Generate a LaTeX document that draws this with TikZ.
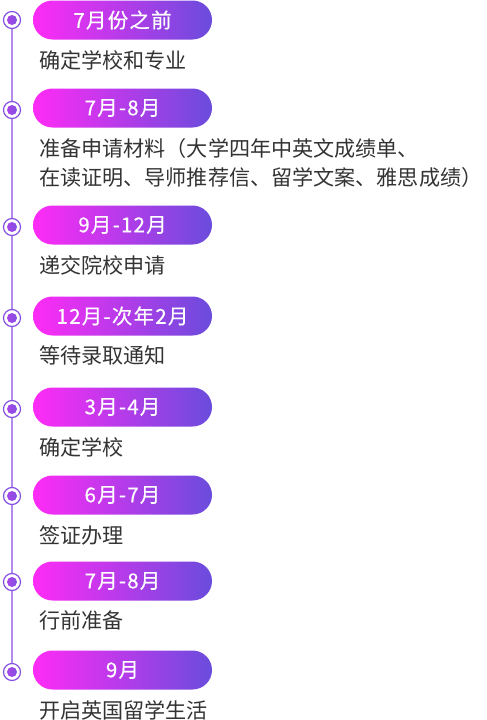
\documentclass[tikz,border=0pt]{standalone}
\usepackage{fontspec}
\setmainfont{Noto Sans CJK SC}
\newfontfamily\pillfont[LetterSpace=6,FakeBold=0.4]{Noto Sans CJK SC}
\definecolor{pillleft}{HTML}{FF2BF6}
\definecolor{pillright}{HTML}{6A4CDC}
\definecolor{ringcol}{HTML}{8450E2}
\definecolor{linecol}{HTML}{B38CEB}
\definecolor{textgray}{HTML}{333333}
\begin{document}
\begin{tikzpicture}
      [x=1pt,y=-1pt,
      date node/.style={rectangle,rounded corners=19.5pt,minimum width=179pt,
        minimum height=39pt,inner sep=0pt,left color=pillleft,right color=pillright,
        text=white,font=\pillfont\fontsize{20.5}{24}\selectfont},
      step text/.style={anchor=west,inner sep=0pt,align=left,text=textgray,
        font=\fontsize{21.1}{29}\selectfont},
      ring/.style={circle,draw=ringcol,line width=1.2pt,fill=white,minimum size=17pt,inner sep=0pt},
      dot/.style={circle,left color=ringcol!70!pillleft,right color=ringcol,minimum size=10pt,inner sep=0pt}]
      \useasboundingbox (0,0) rectangle (487,720);
      \node[date node] (d1) at (122.5,20) {7月份之前};
      \node[date node] (d2) at (122.5,108) {7月-8月};
      \node[date node] (d3) at (122.5,225) {9月-12月};
      \node[date node] (d4) at (122.5,316) {12月-次年2月};
      \node[date node] (d5) at (122.5,407) {3月-4月};
      \node[date node] (d6) at (122.5,495) {6月-7月};
      \node[date node] (d7) at (122.5,581) {7月-8月};
      \node[date node] (d8) at (122.5,670) {9月};
      \node[step text] (t1) at (39,60) {确定学校和专业};
      \node[step text] (t2) at (39,162.5) {准备申请材料（大学四年中英文成绩单、\\在读证明、导师推荐信、留学文案、雅思成绩）};
      \node[step text] (t3) at (39,265) {递交院校申请};
      \node[step text] (t4) at (39,355) {等待录取通知};
      \node[step text] (t5) at (39,447) {确定学校};
      \node[step text] (t6) at (39,535) {签证办理};
      \node[step text] (t7) at (39,620) {行前准备};
      \node[step text] (t8) at (39,710) {开启英国留学生活};
      \coordinate (top) at (12,20);
      \coordinate (bottom) at (12,672);
      \draw[linecol,line width=1.3pt] (top) -- (bottom);
      \foreach \i/\y in {1/20,2/110,3/227,4/318,5/409,6/496,7/582,8/672} {
        \node[ring] (r\i) at (12,\y) {};
        \node[dot] (c\i) at (r\i) {};
      }
    \end{tikzpicture}
\end{document}
